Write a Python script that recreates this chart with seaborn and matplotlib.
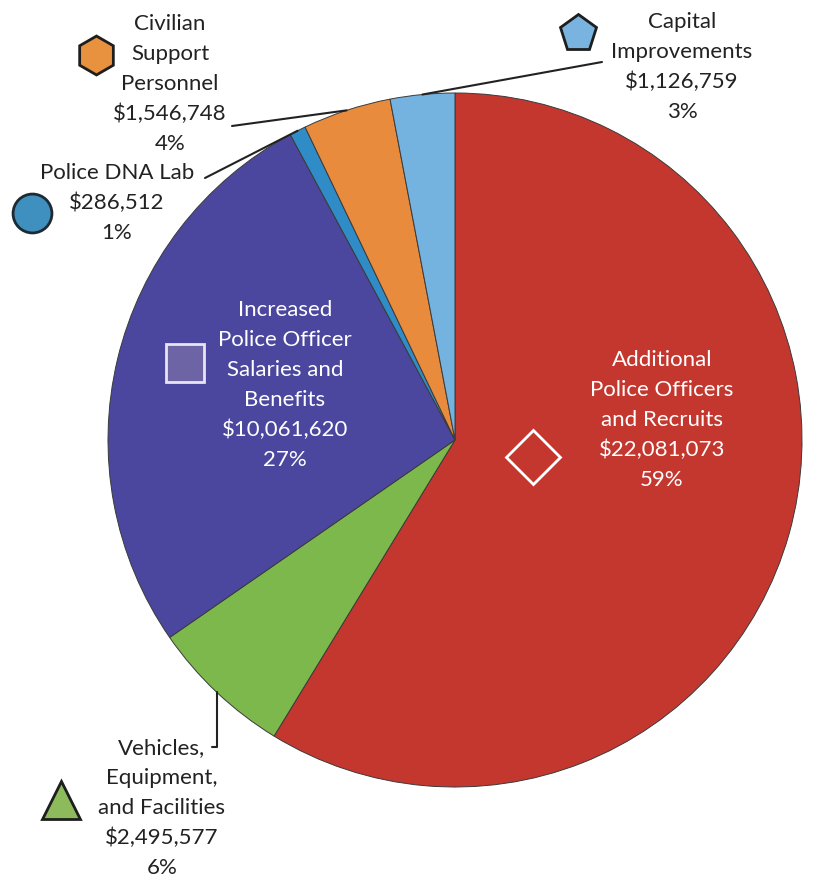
import numpy as np
import matplotlib
matplotlib.use("Agg")
import matplotlib.pyplot as plt
import seaborn as sns

# budget categories, clockwise from 12 o'clock
categories = ["Additional\nPolice Officers\nand Recruits",
              "Vehicles,\nEquipment,\nand Facilities",
              "Increased\nPolice Officer\nSalaries and\nBenefits",
              "Police DNA Lab",
              "Civilian\nSupport\nPersonnel",
              "Capital\nImprovements"]
amounts = [22081073, 2495577, 10061620, 286512, 1546748, 1126759]
pct_labels = ["59%", "6%", "27%", "1%", "4%", "3%"]

colors = ["#C4372F", "#7DB84C", "#4B479E", "#2F8CC6", "#E88B3C", "#74B2E0"]

sns.set_theme(style="white")
plt.rcParams["font.family"] = ["Lato", "DejaVu Sans"]

W, H = 816, 880
CX, CY, R = 455, 440, 347


def px(x, y):
    # picture pixels -> data units of the pie (radius 1)
    return (x - CX) / R, (CY - y) / R


fig = plt.figure(figsize=(W / 100, H / 100), dpi=100)
ax = fig.add_axes([0, 0, 1, 1])

wedges, _ = ax.pie(amounts, colors=colors, startangle=90, counterclock=False,
                   radius=1, wedgeprops=dict(edgecolor="#3a3a3a", linewidth=0.7))

x0, y1 = px(0, 0)
x1, y0 = px(W, H)
ax.set_xlim(x0, x1)
ax.set_ylim(y0, y1)
ax.set_aspect("equal")
ax.axis("off")

# label layout: text centre (px), marker centre (px), marker, marker face, marker edge, text colour
layout = [
    ((662, 420), (533, 457), "D", "#C4372F", "white", "white"),
    ((162, 808), (61, 800), "^", "#8DBB5C", "#1e1e1e", "#222222"),
    ((285, 385), (185, 363), "s", "#6D64A6", "#e8e4f0", "white"),
    ((117, 203), (32, 213), "o", "#3F8FBF", "#1e2a33", "#222222"),
    ((170, 84), (96, 55), "h", "#E8913F", "#1e1e1e", "#222222"),
    ((682, 67), (578, 33), "p", "#79B3E0", "#1e1e1e", "#222222"),
]

for i, (cat, amt, pct) in enumerate(zip(categories, amounts, pct_labels)):
    (tx, ty), (mx, my), mk, mface, medge, tcol = layout[i]
    label = f"{cat}\n${amt:,}\n{pct}"
    ax.text(*px(tx, ty), label, ha="center", va="center", fontsize=16,
            color=tcol, linespacing=1.62)
    ax.plot(*px(mx, my), marker=mk, markersize=28, markerfacecolor=mface,
            markeredgecolor=medge, markeredgewidth=2, linestyle="none")

# leader lines from the middle of the small wedges
def edge_point(w):
    ang = np.deg2rad((w.theta1 + w.theta2) / 2)
    return np.cos(ang), np.sin(ang)

lead_ends = {3: (205, 178), 4: (232, 126), 5: (602, 62)}
for i, (lx, ly) in lead_ends.items():
    ex, ey = edge_point(wedges[i])
    sx, sy = px(lx, ly)
    ax.plot([sx, ex], [sy, ey], color="#222222", lw=1.5)

# vehicles: vertical drop then short tick to the label
ex, ey = edge_point(wedges[1])
_, ty = px(0, 747)
tx, _ = px(212, 0)
ax.plot([ex, ex, tx], [ey, ty, ty], color="#222222", lw=1.5)

fig.savefig("out.png", dpi=100, facecolor="white")
